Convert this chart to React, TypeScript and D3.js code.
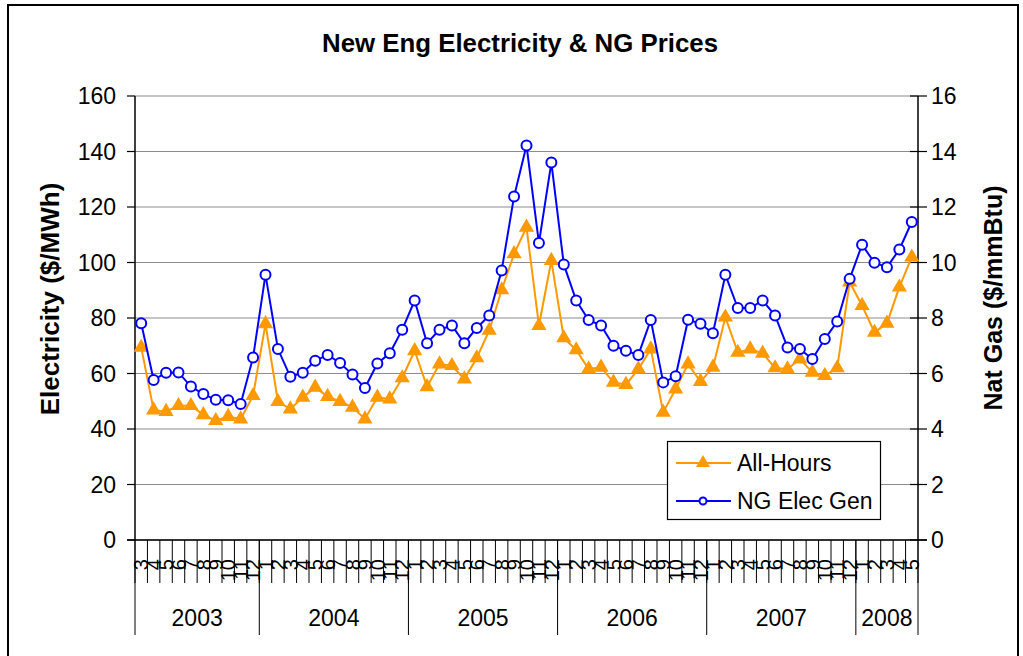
import React from "react";
import * as d3 from "d3";

// Monthly prices, Mar 2003 - May 2008
const years = ["2003", "2004", "2005", "2006", "2007", "2008"];
const yearMonths = [
  ["3", "4", "5", "6", "7", "8", "9", "10", "11", "12"],
  ["1", "2", "3", "4", "5", "6", "7", "8", "9", "10", "11", "12"],
  ["1", "2", "3", "4", "5", "6", "7", "8", "9", "10", "11", "12"],
  ["1", "2", "3", "4", "5", "6", "7", "8", "9", "10", "11", "12"],
  ["1", "2", "3", "4", "5", "6", "7", "8", "9", "10", "11", "12"],
  ["1", "2", "3", "4", "5"],
];

// All-Hours electricity ($/MWh)
const allHours = [
  69.4, 46.8, 46.3, 48.4, 48.4, 45.1, 43.0, 44.5, 43.6, 52.0,
  77.9, 49.9, 47.2, 51.4, 55.0, 51.7, 49.9, 47.8, 43.6, 51.4,
  50.8, 58.4, 68.2, 55.2, 63.4, 62.8, 58.0, 65.6, 75.5, 90.1,
  103.1, 112.7, 77.3, 100.7, 72.8, 68.5, 61.6, 62.2, 56.8, 56.0,
  61.6, 68.8, 46.0, 54.4, 63.4, 57.1, 62.2, 80.3, 67.6, 68.8,
  67.3, 62.0, 61.6, 65.2, 60.4, 59.2, 62.0, 92.9, 84.5, 74.8,
  78.1, 91.1, 101.9,
];

// NG for electric generation ($/mmBtu)
const ngElecGen = [
  7.81, 5.77, 6.03, 6.04, 5.53, 5.26, 5.05, 5.04, 4.9, 6.58,
  9.56, 6.88, 5.88, 6.03, 6.46, 6.67, 6.38, 5.96, 5.48, 6.36,
  6.73, 7.58, 8.63, 7.09, 7.58, 7.73, 7.09, 7.64, 8.09, 9.71,
  12.38, 14.22, 10.7, 13.6, 9.93, 8.63, 7.93, 7.73, 7.0, 6.82,
  6.67, 7.93, 5.68, 5.9, 7.94, 7.79, 7.45, 9.56, 8.36, 8.36,
  8.63, 8.09, 6.94, 6.88, 6.52, 7.24, 7.87, 9.41, 10.64, 9.99,
  9.83, 10.47, 11.46,
];

const leftTicks = [0, 20, 40, 60, 80, 100, 120, 140, 160];
const rightTicks = [0, 2, 4, 6, 8, 10, 12, 14, 16];

const W = 1023,
  H = 656;
const left = 135,
  right = 918,
  top = 96,
  bottom = 540;

const ORANGE = "#FF9900";
const BLUE = "#0000FF";
const FONT = "'Liberation Sans', Arial, sans-serif";

export default function App() {
  // flatten categories
  const cats: { key: string; month: string; year: string }[] = [];
  years.forEach((y, yi) => {
    yearMonths[yi].forEach((m) => cats.push({ key: y + "-" + m, month: m, year: y }));
  });

  const x = d3
    .scaleBand()
    .domain(cats.map((c) => c.key))
    .range([left, right]);
  const yL = d3.scaleLinear().domain([0, 160]).range([bottom, top]);
  const yR = d3.scaleLinear().domain([0, 16]).range([bottom, top]);
  const cx = (i: number) => (x(cats[i].key) as number) + x.bandwidth() / 2;

  const lineL = d3
    .line<number>()
    .x((d, i) => cx(i))
    .y((d) => yL(d));
  const lineR = d3
    .line<number>()
    .x((d, i) => cx(i))
    .y((d) => yR(d));

  const tri = d3.symbol(d3.symbolTriangle, 100)() as string;
  const triSmall = d3.symbol(d3.symbolTriangle, 85)() as string;

  // year group boundaries
  let acc = 0;
  const groups = years.map((y, yi) => {
    const start = acc;
    acc += yearMonths[yi].length;
    return { year: y, start, end: acc };
  });
  const step = x.step();
  const bx = (i: number) => left + i * step;

  return (
    <div style={{ position: "absolute", left: 0, top: 0 }}>
      <svg width={W} height={H} style={{ display: "block", fontFamily: FONT }}>
        <rect x={0} y={0} width={W} height={H} fill="#fff" />
        <rect x={8} y={5} width={1010} height={700} fill="none" stroke="#000" strokeWidth={2} />

        <text x={520} y={52} textAnchor="middle" fontSize={25} fontWeight="bold" textLength={396} lengthAdjust="spacingAndGlyphs">
          New Eng Electricity &amp; NG Prices
        </text>

        {/* gridlines */}
        {leftTicks.map((t) => (
          <line key={"g" + t} x1={left} x2={right} y1={yL(t)} y2={yL(t)} stroke="#8c8c8c" strokeWidth={1.2} />
        ))}

        {/* left axis */}
        <line x1={left} x2={left} y1={top} y2={bottom} stroke="#000" strokeWidth={1.5} />
        {leftTicks.map((t) => (
          <g key={"l" + t}>
            <line x1={left - 8} x2={left} y1={yL(t)} y2={yL(t)} stroke="#000" strokeWidth={1.2} />
            <text x={116} y={yL(t)} dy="0.36em" textAnchor="end" fontSize={23}>
              {t}
            </text>
          </g>
        ))}

        {/* right axis */}
        <line x1={right} x2={right} y1={top} y2={bottom} stroke="#000" strokeWidth={1.5} />
        {rightTicks.map((t) => (
          <g key={"r" + t}>
            <line x1={right - 8} x2={right + 9} y1={yR(t)} y2={yR(t)} stroke="#000" strokeWidth={1.2} />
            <text x={931} y={yR(t)} dy="0.36em" textAnchor="start" fontSize={23}>
              {t}
            </text>
          </g>
        ))}

        {/* axis titles */}
        <text
          transform={`translate(50,299) rotate(-90)`}
          textAnchor="middle"
          dy="0.36em"
          fontSize={26}
          fontWeight="bold"
        >
          Electricity ($/MWh)
        </text>
        <text
          transform={`translate(993,298) rotate(-90)`}
          textAnchor="middle"
          dy="0.36em"
          fontSize={25}
          fontWeight="bold"
        >
          Nat Gas ($/mmBtu)
        </text>

        {/* category axis */}
        <line x1={left - 8} x2={right + 9} y1={bottom} y2={bottom} stroke="#000" strokeWidth={1.5} />
        {d3.range(cats.length + 1).map((i) => (
          <line key={"t" + i} x1={bx(i)} x2={bx(i)} y1={bottom} y2={583} stroke="#000" strokeWidth={1} />
        ))}
        {groups.map((g) => (
          <line key={"yb" + g.start} x1={bx(g.start)} x2={bx(g.start)} y1={bottom} y2={635} stroke="#000" strokeWidth={1} />
        ))}
        <line x1={bx(cats.length)} x2={bx(cats.length)} y1={bottom} y2={635} stroke="#000" strokeWidth={1} />
        {cats.map((c, i) => (
          <text
            key={"m" + i}
            transform={`translate(${cx(i)},559) rotate(-90)`}
            textAnchor="end"
            dy="0.36em"
            fontSize={20}
          >
            {c.month}
          </text>
        ))}
        {groups.map((g) => (
          <text key={"y" + g.year} x={(bx(g.start) + bx(g.end)) / 2} y={626} textAnchor="middle" fontSize={23}>
            {g.year}
          </text>
        ))}

        {/* series */}
        <path d={lineL(allHours) as string} fill="none" stroke={ORANGE} strokeWidth={2} />
        {allHours.map((d, i) => (
          <path key={"a" + i} d={tri} transform={`translate(${cx(i)},${yL(d)})`} fill={ORANGE} />
        ))}
        <path d={lineR(ngElecGen) as string} fill="none" stroke={BLUE} strokeWidth={2} />
        {ngElecGen.map((d, i) => (
          <circle key={"n" + i} cx={cx(i)} cy={yR(d)} r={5} fill="#fff" stroke={BLUE} strokeWidth={2} />
        ))}

        {/* legend */}
        <rect x={667.5} y={441.5} width={213} height={78} fill="#fff" stroke="#000" strokeWidth={1.2} />
        <line x1={676} x2={731} y1={463} y2={463} stroke={ORANGE} strokeWidth={2} />
        <path d={triSmall} transform="translate(703,463)" fill={ORANGE} />
        <text x={737} y={463} dy="0.36em" fontSize={23}>
          All-Hours
        </text>
        <line x1={676} x2={731} y1={501} y2={501} stroke={BLUE} strokeWidth={2} />
        <circle cx={703} cy={501} r={3.5} fill="#fff" stroke={BLUE} strokeWidth={2} />
        <text x={737} y={501} dy="0.36em" fontSize={23}>
          NG Elec Gen
        </text>
      </svg>
    </div>
  );
}
